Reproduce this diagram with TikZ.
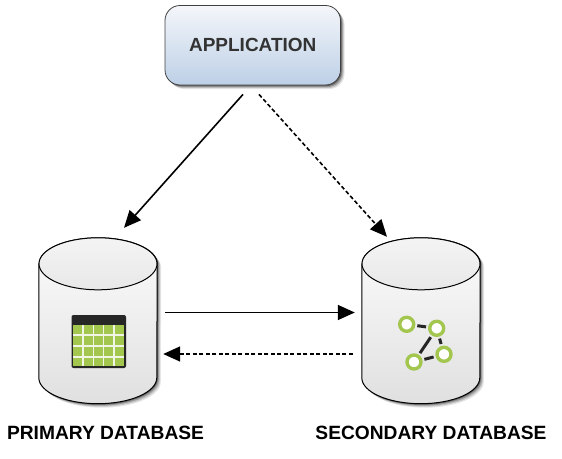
\documentclass[tikz,border=0pt]{standalone}
\usepackage{fontspec}
\setmainfont{Liberation Sans}
\usetikzlibrary{arrows.meta}

\definecolor{appblue}{HTML}{BDD0E6}
\definecolor{apptop}{HTML}{F4F6FA}
\definecolor{dbtop}{HTML}{FCFCFC}
\definecolor{dbmid}{HTML}{F0F0F0}
\definecolor{dbbottom}{HTML}{E0E0E0}
\definecolor{lidtop}{HTML}{F4F4F4}
\definecolor{lidbottom}{HTML}{E8E8E8}
\definecolor{icongreen}{HTML}{A2C64E}
\definecolor{icondark}{HTML}{262626}

\newcommand{\dbshape}[1]{%
	([yshift=-26pt]#1.north west) -- ([yshift=26pt]#1.south west) arc (180:360:59pt and 26pt) -- ([yshift=-26pt]#1.north east) arc (0:180:59pt and 26pt) -- cycle}

\newcommand{\dbcyl}[1]{%
	\foreach \off/\op in {4/.10,3/.14,2/.22,1/.34}{
		\fill[black,opacity=\op,transform canvas={shift={(\off pt,-\off pt)}}] \dbshape{#1};
	}
	\shade[top color=dbtop,middle color=dbmid,bottom color=dbbottom] \dbshape{#1};
	\draw[db lines] \dbshape{#1};
	\draw[db lines,top color=lidtop,bottom color=lidbottom] ([yshift=-26pt]#1.north) ellipse (59pt and 26pt);
}

\begin{document}
\begin{tikzpicture}[x=1pt,y=-1pt]

	\tikzstyle db lines=[line width=1pt,black];
	\tikzstyle dbbox=[inner sep=0pt,minimum width=118pt,minimum height=165.5pt];
	\tikzstyle appbox=[rounded corners=15pt,inner sep=0pt,minimum width=175.5pt,minimum height=79.5pt,draw=black!75,line width=.8pt,top color=apptop,bottom color=appblue,font=\bfseries\fontsize{19}{21}\selectfont,text=black!80];
	\tikzstyle caption=[font=\bfseries\fontsize{19.2}{21}\selectfont,text=black];
	\tikzstyle link=[line width=1.6pt,-{Triangle[length=17pt,width=15pt]}];
	\tikzstyle dashlink=[link,dash pattern=on 4pt off 2.5pt];
	\tikzstyle ring=[circle,draw=icongreen,line width=3.4pt,fill=white,inner sep=0pt,minimum size=14pt];
	\tikzstyle ring lines=[line width=3pt,icondark,shorten >=2pt,shorten <=2pt];

	\useasboundingbox (0,0) rectangle (562,458);

	% application box
	\foreach \off/\op in {4/.10,3/.16,2/.24,1/.34}{
		\fill[black,opacity=\op,rounded corners=15pt] (165+\off,5.5+\off) rectangle (340.5+\off,85+\off);
	}
	\node[appbox] (app) at (252.75,45.25) {APPLICATION};

	% databases
	\node[dbbox] (primary) at (98,320.75) {};
	\node[dbbox] (secondary) at (421,320.75) {};
	\dbcyl{primary}
	\dbcyl{secondary}

	\node[caption] (primary label) at (105.5,432.5) {PRIMARY DATABASE};
	\node[caption] (secondary label) at (431,433) {SECONDARY DATABASE};

	% table icon
	\fill[icondark,rounded corners=2pt] (71.5,315) rectangle (126,368);
	\node[fill=icongreen,inner sep=0pt,minimum width=51pt,minimum height=41pt] (cells) at (98.75,345.5) {};
	\foreach \x in {82.7,93.3,103.5,114}{
		\draw[white!85!icongreen,line width=1.6pt] (\x,325) -- (\x,366);
	}
	\foreach \y in {335,345.7,356.7}{
		\draw[white!85!icongreen,line width=1.6pt] (73.3,\y) -- (124.3,\y);
	}

	% graph icon
	\node[ring] (r1) at (406.7,324.3) {};
	\node[ring] (r2) at (436.7,328.3) {};
	\node[ring] (r3) at (444,354.3) {};
	\node[ring] (r4) at (414,362) {};
	\draw[ring lines] (r1) -- (r2);
	\draw[ring lines] (r2) -- (r3);
	\draw[ring lines] (r2) -- (r4);
	\draw[ring lines] (r3) -- (r4);

	% connectors
	\draw[link] ([xshift=-9.75pt,yshift=-9pt]app.south) -- ([xshift=26pt,yshift=10pt]primary.north);
	\draw[dashlink] ([xshift=6.25pt,yshift=-9pt]app.south) -- ([xshift=-34pt,yshift=1pt]secondary.north);
	\draw[link] ([xshift=8pt,yshift=8.25pt]primary.east) -- ([xshift=-7pt,yshift=8.25pt]secondary.west);
	\draw[dashlink] ([xshift=-9pt,yshift=-33.25pt]secondary.west) -- ([xshift=6pt,yshift=-33.25pt]primary.east);

\end{tikzpicture}
\end{document}
